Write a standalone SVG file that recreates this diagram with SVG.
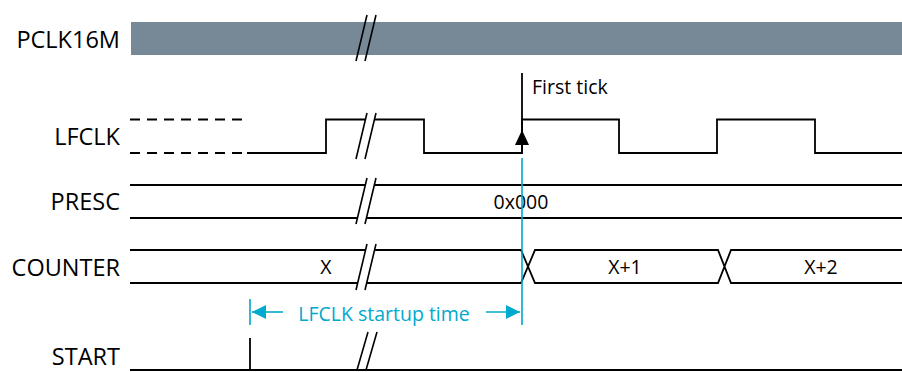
<svg xmlns="http://www.w3.org/2000/svg" width="902" height="372" viewBox="0 0 902 372">
<style>
.lbl{font-family:"Open Sans","Liberation Sans",sans-serif;font-size:23.5px;fill:#000;text-anchor:end}
.val{font-family:"Open Sans","Liberation Sans",sans-serif;font-size:19.5px;fill:#000;text-anchor:middle}
.sig{fill:none;stroke:#000;stroke-width:1.8}
.blue{fill:none;stroke:#00a9ce;stroke-width:1.6}
.brk{stroke:#000;stroke-width:1.6;fill:none}
.gap{fill:#fff;stroke:none}
</style>
<defs>
<g id="brk">
<polygon class="gap" points="0,46 11,0 20,0 9,46"/>
<path class="brk" d="M0,46 L11,0 M9,46 L20,0"/>
</g>
<marker id="ablue" viewBox="0 0 10 10" refX="10" refY="5" markerWidth="15" markerHeight="14" markerUnits="userSpaceOnUse" orient="auto">
<path d="M0,0 L10,5 L0,10 Z" fill="#00a9ce"/>
</marker>
</defs>

<g id="pclk16m">
<text class="lbl" x="120" y="48">PCLK16M</text>
<rect x="131" y="22" width="771" height="33" fill="#778896"/>
<path class="brk" d="M356,61 L367,15 M365,61 L376,15"/>
</g>

<g id="lfclk">
<text class="lbl" x="120" y="145">LFCLK</text>
<path class="sig" d="M130,119.5 H242 M130,153 H242" stroke-dasharray="10 7"/>
<path class="sig" d="M247,153 H326 V119.5 H424 V153 H522 V119.5 H619 V153 H717 V119.5 H815 V153 H902"/>
<use href="#brk" x="356" y="113"/>
</g>

<g id="presc">
<text class="lbl" x="120" y="210">PRESC</text>
<path class="sig" d="M130,185 H902 M130,218 H902"/>
<use href="#brk" x="356" y="178"/>
<text class="val" x="521" y="209">0x000</text>
</g>

<g id="counter">
<text class="lbl" x="120" y="276">COUNTER</text>
<path class="sig" d="M130,250 H521 L535,283 H718 L731,250 H902 M130,283 H521 L535,250 H718 L731,283 H902"/>
<use href="#brk" x="356" y="244"/>
<text class="val" x="326" y="274">X</text>
<text class="val" x="625" y="274">X+1</text>
<text class="val" x="821" y="274">X+2</text>
</g>

<g id="start">
<text class="lbl" x="120" y="365">START</text>
<path class="sig" d="M130,370 H902 M250,338 V370"/>
<polygon class="gap" points="357,369 368,332 377,332 366,369"/>
<path class="brk" d="M357,370 L368,332 M366,370 L377,332"/>
</g>

<g id="connectors">
<path class="sig" d="M522,73 V153"/>
<path d="M515,145 L522,130 L529,145 Z" fill="#000"/>
<path class="blue" d="M522,158 V325 M250,299 V325"/>
<path class="blue" d="M283,312 H252" marker-end="url(#ablue)"/>
<path class="blue" d="M486,312 H520" marker-end="url(#ablue)"/>
</g>

<g id="labels">
<text x="532" y="94" font-family="Open Sans, Liberation Sans, sans-serif" font-size="19.5" fill="#000">First tick</text>
<text x="384" y="321" font-family="Open Sans, Liberation Sans, sans-serif" font-size="19.5" fill="#00a9ce" text-anchor="middle">LFCLK startup time</text>
</g>
</svg>
